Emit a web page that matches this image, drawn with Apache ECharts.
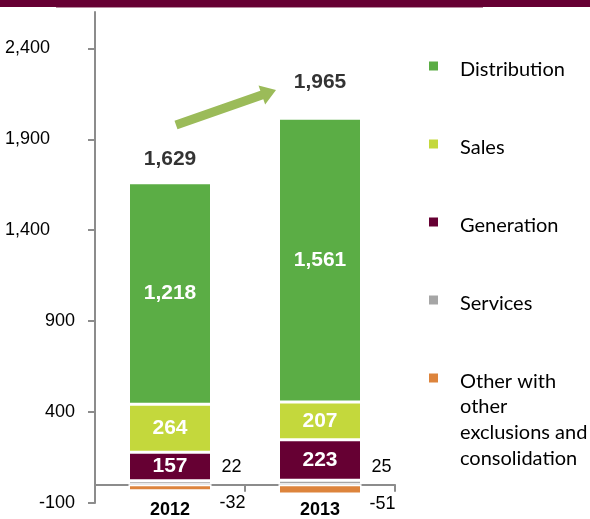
<!DOCTYPE html>
<html><head><meta charset="utf-8">
<script src="https://cdn.jsdelivr.net/npm/echarts@6/dist/echarts.min.js"></script>
<style>html,body{margin:0;padding:0;background:#fff}#c{width:590px;height:519px}</style>
</head><body><div id="c"></div>
<script>
const categories = ['2012', '2013'];
const distribution = [1218, 1561];
const sales = [264, 207];
const generation = [157, 223];
const services = [22, 25];
const other = [-32, -51];
const totals = [1629, 1965];
const yTicks = [-100, 400, 900, 1400, 1900, 2400];
const otherName = 'Other with other exclusions and consolidation';

const NUM = "'Liberation Sans Narrow','Arial Narrow','Liberation Sans',Arial,sans-serif";
const TXT = "Lato,'Open Sans',sans-serif";
const fmt = v => Number(v).toLocaleString('en-US');

const tops = categories.map((c, i) => services[i] + generation[i] + sales[i] + distribution[i]);

const insideLabel = {show: true, position: 'inside', color: '#fff', fontWeight: 'bold', fontSize: 21, fontFamily: NUM, formatter: p => fmt(p.value)};
function bar(name, data, color, label) {
  return {type: 'bar', name, data, stack: 'total', barWidth: 83,
    itemStyle: {color, borderColor: '#fff', borderWidth: 1.5}, label, emphasis: {disabled: true}};
}

function arrowPts(x1, y1, x2, y2, sw, hl, hw) {
  const dx = x2 - x1, dy = y2 - y1, L = Math.hypot(dx, dy), ux = dx / L, uy = dy / L, nx = -uy, ny = ux;
  const bx = x2 - ux * hl, by = y2 - uy * hl;
  return [[x1 + nx * sw, y1 + ny * sw], [bx + nx * sw, by + ny * sw], [bx + nx * hw, by + ny * hw], [x2, y2],
    [bx - nx * hw, by - ny * hw], [bx - nx * sw, by - ny * sw], [x1 - nx * sw, y1 - ny * sw]];
}

const totalOffsets = [[0, 0], [0, -12]];

const chart = echarts.init(document.getElementById('c'), null, {renderer: 'canvas'});
chart.setOption({
  animation: false,
  backgroundColor: '#fff',
  grid: {left: 95, right: 195, top: 12, bottom: 16, containLabel: false, outerBoundsMode: 'none'},
  xAxis: {
    type: 'category', data: categories,
    axisLine: {onZero: true, lineStyle: {color: '#8c8c8c', width: 2}},
    axisTick: {show: true, length: 7, lineStyle: {color: '#8c8c8c', width: 2}},
    axisLabel: {show: true, margin: -2, fontSize: 18, fontWeight: 'bold', color: '#000', fontFamily: NUM, hideOverlap: false}
  },
  yAxis: {
    type: 'value', min: -100, max: 2600,
    axisLine: {show: true, lineStyle: {color: '#8c8c8c', width: 2}},
    axisTick: {show: true, length: 7, customValues: yTicks, lineStyle: {color: '#8c8c8c', width: 2}},
    axisLabel: {customValues: yTicks, margin: 20, fontSize: 18, color: '#000', fontFamily: NUM,
      formatter: v => Math.abs(v) >= 1000 ? '{w|' + fmt(v) + '}' : fmt(v),
      rich: {w: {fontSize: 18, color: '#000', fontFamily: NUM, padding: [0, 25, 0, 0]}}},
    splitLine: {show: false}
  },
  legend: {
    orient: 'vertical', left: 429, top: 52, padding: 0,
    itemWidth: 9, itemHeight: 9, itemGap: 50, icon: 'rect',
    selectedMode: false,
    itemStyle: {borderWidth: 0},
    data: ['Distribution', 'Sales', 'Generation', 'Services', otherName],
    formatter: n => '{a|' + (n === otherName ? 'Other with' : n) + '}',
    textStyle: {fontFamily: TXT, fontSize: 20, color: '#000',
      rich: {a: {fontFamily: TXT, fontSize: 20, color: '#000', lineHeight: 25, padding: [8, 0, 0, 17]}}}
  },
  graphic: [
    {type: 'rect', left: 0, top: 0, shape: {width: 590, height: 7}, style: {fill: '#660033'}},
    {type: 'rect', left: 56, top: 7, shape: {width: 427, height: 1}, style: {fill: '#b98aa0'}},
    {type: 'polygon', shape: {points: arrowPts(176, 125, 276, 90, 4.5, 15, 10)}, style: {fill: '#9BBB59'}},
    {type: 'text', left: 460, top: 394, style: {text: 'other\nexclusions and\nconsolidation', font: '20px ' + TXT, lineHeight: 26, fill: '#000'}}
  ],
  series: [
    bar('Services', services, '#A6A6A6', {show: true, position: 'right', distance: 10, offset: [0, -16], fontSize: 18, color: '#000', fontFamily: NUM}),
    bar('Generation', generation, '#660033', insideLabel),
    bar('Sales', sales, '#C4D83C', insideLabel),
    bar('Distribution', distribution, '#5BAD45', insideLabel),
    bar(otherName, other, '#DD843C', {show: true, position: 'right', distance: 8, offset: [0, 15], fontSize: 18, color: '#000', fontFamily: NUM}),
    {type: 'scatter', name: 'Total', symbolSize: 1, itemStyle: {color: 'transparent'},
      data: tops.map((v, i) => ({value: v, label: {offset: totalOffsets[i]}})),
      label: {show: true, position: 'top', distance: 13, color: '#000', fontWeight: 'bold', fontSize: 21, fontFamily: NUM,
        formatter: p => fmt(totals[p.dataIndex])}, emphasis: {disabled: true}, silent: true}
  ]
});
</script></body></html>
